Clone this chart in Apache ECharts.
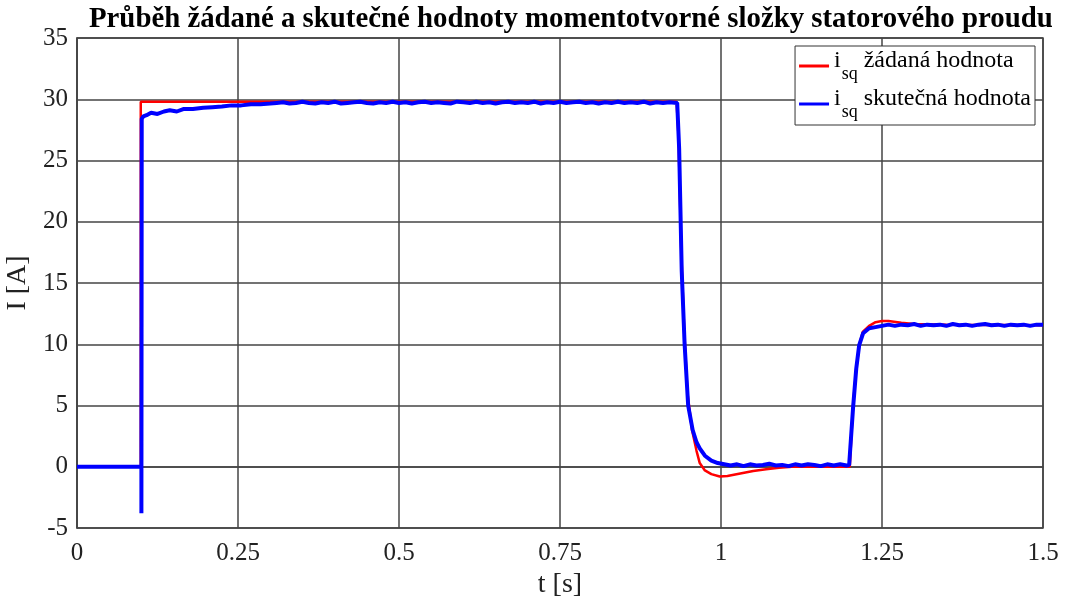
<!DOCTYPE html>
<html>
<head>
<meta charset="utf-8">
<script src="https://cdn.jsdelivr.net/npm/echarts@6/dist/echarts.min.js"></script>
<style>
  html, body { margin: 0; padding: 0; background: #fff; }
  #chart { width: 1065px; height: 605px; }
</style>
</head>
<body>
<div id="chart"></div>
<script>
// žádaná hodnota (reference)
var refT = [0, 0.099, 0.099, 0.931, 0.934, 0.938, 0.943, 0.948, 0.955, 0.962, 0.967, 0.975, 0.985, 0.998,
  1.01, 1.03, 1.05, 1.07, 1.09, 1.11, 1.2, 1.205, 1.21, 1.215, 1.22, 1.23, 1.24, 1.25, 1.26, 1.28, 1.3, 1.35, 1.5]
var refV = [0, 0, 29.8, 29.8, 27, 18, 11, 6, 3, 1.3, 0.3, -0.3, -0.6, -0.8,
  -0.75, -0.55, -0.35, -0.2, -0.08, 0, 0, 5, 8, 10, 11, 11.5, 11.8, 11.9, 11.9, 11.75, 11.65, 11.6, 11.55]

// skutečná hodnota (measured)
var measT = [0, 0.1, 0.1, 0.1005, 0.103, 0.108, 0.115, 0.125, 0.135, 0.144, 0.155, 0.165, 0.18, 0.196,
  0.21, 0.225, 0.24, 0.255, 0.27, 0.285, 0.3,
  0.31, 0.32, 0.33, 0.34, 0.35, 0.36, 0.37, 0.38, 0.39, 0.40, 0.41, 0.42, 0.43, 0.44, 0.45,
  0.46, 0.47, 0.48, 0.49, 0.50, 0.51, 0.52, 0.53, 0.54, 0.55, 0.56, 0.57, 0.58, 0.59, 0.60,
  0.61, 0.62, 0.63, 0.64, 0.65, 0.66, 0.67, 0.68, 0.69, 0.70, 0.71, 0.72, 0.73, 0.74, 0.75,
  0.76, 0.77, 0.78, 0.79, 0.80, 0.81, 0.82, 0.83, 0.84, 0.85, 0.86, 0.87, 0.88, 0.89, 0.90,
  0.91, 0.92, 0.932,
  0.935, 0.939, 0.9435, 0.949, 0.956, 0.962, 0.967, 0.975, 0.985, 0.995,
  1.005, 1.015, 1.025, 1.035, 1.045, 1.055, 1.065, 1.075, 1.085, 1.095, 1.105, 1.115, 1.125,
  1.135, 1.145, 1.155, 1.165, 1.175, 1.185, 1.195, 1.199,
  1.2, 1.2052, 1.21, 1.2145, 1.2207, 1.23, 1.24, 1.25, 1.26, 1.27, 1.28, 1.29, 1.30, 1.31, 1.32,
  1.33, 1.34, 1.35, 1.36, 1.37, 1.38, 1.39, 1.40, 1.41, 1.42, 1.43, 1.44, 1.45, 1.46, 1.47,
  1.48, 1.49, 1.5]
var measV = [0, 0, -3.8, 28.4, 28.6, 28.7, 28.9, 28.8, 29.0, 29.1, 29.0, 29.2, 29.2, 29.3,
  29.35, 29.4, 29.5, 29.5, 29.6, 29.6, 29.65,
  29.7, 29.75, 29.65, 29.7, 29.8, 29.7, 29.65, 29.75, 29.7, 29.8, 29.65, 29.7, 29.75, 29.8, 29.7,
  29.65, 29.75, 29.7, 29.8, 29.7, 29.75, 29.65, 29.75, 29.8, 29.7, 29.75, 29.7, 29.65, 29.8, 29.75,
  29.7, 29.8, 29.7, 29.75, 29.65, 29.75, 29.8, 29.7, 29.75, 29.7, 29.8, 29.65, 29.75, 29.7, 29.8,
  29.7, 29.75, 29.8, 29.7, 29.75, 29.65, 29.75, 29.7, 29.8, 29.7, 29.75, 29.7, 29.8, 29.65, 29.75,
  29.7, 29.75, 29.7,
  26, 16, 10, 5, 3, 2, 1.5, 0.9, 0.5, 0.3,
  0.2, 0.1, 0.2, 0.05, 0.2, 0.1, 0.15, 0.25, 0.1, 0.15, 0.05, 0.2, 0.1,
  0.2, 0.15, 0.05, 0.2, 0.1, 0.2, 0.1, 0.15,
  0.3, 4.9, 8, 9.9, 10.9, 11.3, 11.4, 11.5, 11.6, 11.5, 11.6, 11.55, 11.65, 11.5, 11.6,
  11.55, 11.6, 11.5, 11.65, 11.55, 11.6, 11.5, 11.6, 11.65, 11.55, 11.6, 11.5, 11.6, 11.55, 11.6,
  11.5, 11.6, 11.6]

var xTicks = [0, 0.25, 0.5, 0.75, 1, 1.25, 1.5]
var yTicks = [-5, 0, 5, 10, 15, 20, 25, 30, 35]

function pairs(t, v) {
  return t.map(function (x, i) { return [x, v[i]] })
}

var serif = 'Liberation Serif'
var chart = echarts.init(document.getElementById('chart'))
var option = {
  backgroundColor: '#fff',
  animation: false,
  title: {
    text: 'Průběh žádané a skutečné hodnoty momentotvorné složky statorového proudu',
    left: 84,
    top: 0,
    textStyle: { fontFamily: serif, fontWeight: 'bold', fontSize: 28.8, color: '#000' }
  },
  legend: {
    orient: 'vertical',
    right: 30,
    top: 46,
    itemWidth: 30,
    itemHeight: 3,
    itemGap: 4,
    padding: [3, 4, 4, 4],
    backgroundColor: '#fff',
    borderColor: '#333',
    borderWidth: 1,
    icon: 'rect',
    formatter: function (name) {
      return '{i|i}{s|sq}{t|' + name + '}'
    },
    textStyle: {
      fontFamily: serif,
      fontSize: 24,
      color: '#000',
      rich: {
        i: { fontFamily: serif, fontSize: 24, lineHeight: 34, verticalAlign: 'top' },
        s: { fontFamily: serif, fontSize: 18, lineHeight: 34, verticalAlign: 'bottom', padding: [0, 6, 0, 1] },
        t: { fontFamily: serif, fontSize: 24, lineHeight: 34, verticalAlign: 'top' }
      }
    },
    data: ['žádaná hodnota', 'skutečná hodnota']
  },
  grid: {
    left: 77, right: 22, top: 38, bottom: 77,
    outerBoundsMode: 'none',
    show: true, borderColor: '#444', borderWidth: 1.5
  },
  xAxis: {
    type: 'value',
    min: 0, max: 1.5, interval: 0.25,
    name: 't [s]',
    nameLocation: 'middle',
    nameGap: 42,
    nameTextStyle: { fontFamily: serif, fontSize: 28, color: '#222' },
    axisLine: { show: true, lineStyle: { color: '#444', width: 1.5 } },
    axisTick: { show: false },
    axisLabel: {
      fontFamily: serif, fontSize: 25, color: '#222', margin: 13,
      formatter: function (v) {
        return xTicks.indexOf(v) >= 0 ? String(v) : ''
      }
    },
    splitLine: { show: true, lineStyle: { color: '#444', width: 1.5 } }
  },
  yAxis: {
    type: 'value',
    min: -5, max: 35, interval: 5,
    name: 'I [A]',
    nameLocation: 'middle',
    nameGap: 40,
    nameTextStyle: { fontFamily: serif, fontSize: 28, color: '#222' },
    axisLine: { show: true, lineStyle: { color: '#444', width: 1.5 } },
    axisTick: { show: false },
    axisLabel: {
      fontFamily: serif, fontSize: 25, color: '#222', margin: 9,
      formatter: function (v) {
        return yTicks.indexOf(v) >= 0 ? String(v) : ''
      }
    },
    splitLine: { show: true, lineStyle: { color: '#444', width: 1.5 } }
  },
  series: [
    {
      name: 'žádaná hodnota',
      type: 'line',
      showSymbol: false,
      color: '#ff0000',
      lineStyle: { width: 2.5, color: '#ff0000' },
      data: pairs(refT, refV)
    },
    {
      name: 'skutečná hodnota',
      type: 'line',
      showSymbol: false,
      color: '#0000ff',
      lineStyle: { width: 4, color: '#0000ff' },
      data: pairs(measT, measV)
    }
  ]
}
chart.setOption(option, true)
</script>
</body>
</html>
